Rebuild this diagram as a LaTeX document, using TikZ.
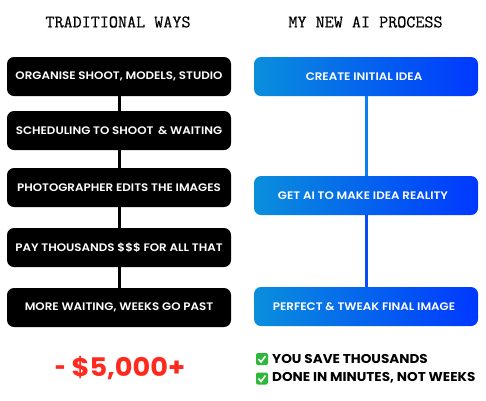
\documentclass[tikz,border=0pt]{standalone}
\usepackage{fontspec}
\setmainfont{Poppins}[FakeStretch=1.06]
\newfontfamily\semi{Poppins SemiBold}[FakeStretch=1.09]
\newfontfamily\typew{Latin Modern Mono}[FakeBold=0.5]
\definecolor{blueA}{HTML}{0A8FDC}
\definecolor{blueB}{HTML}{0038FF}
\definecolor{lineA}{HTML}{0B7EF0}
\definecolor{lineB}{HTML}{0A4CF6}
\definecolor{redT}{HTML}{FF2A1E}
\definecolor{chk}{HTML}{2DB83A}
\tikzset{
 x=1pt,y=-1pt,
 boxbase/.style={rounded corners=7pt,minimum width=224pt,minimum height=39pt,inner sep=0pt,text=white,font=\semi\fontsize{10.9pt}{12pt}\selectfont,anchor=center},
 oldbox/.style={boxbase,fill=black},
 newbox/.style={boxbase,left color=blueA,right color=blueB},
 oldlink/.style={line width=3pt,black},
 title/.style={font=\typew\fontsize{17.6pt}{19pt}\selectfont,text=black,inner sep=0pt},
 note/.style={font=\bfseries\fontsize{12.8pt}{14pt}\selectfont,text=black,inner sep=0pt,anchor=west},
 tick/.style={rounded corners=2pt,fill=chk,minimum size=12pt,inner sep=0pt},
 tickmark/.style={white,line width=1.6pt}
}
\begin{document}
\begin{tikzpicture}
\useasboundingbox (0,0) rectangle (486,400);
\fill[white] (0,0) rectangle (486,400);
\node[title] (t1) at (118,22) {TRADITIONAL WAYS};
\node[title] (t2) at (365.5,22) {MY NEW AI PROCESS};
\node[oldbox] (a1) at (119,76.5) {ORGANISE SHOOT, MODELS, STUDIO};
\node[oldbox] (a2) at (119,130.5) {SCHEDULING TO SHOOT \,\& WAITING};
\node[oldbox] (a3) at (119,187.5) {PHOTOGRAPHER EDITS THE IMAGES};
\node[oldbox] (a4) at (119,247.5) {PAY THOUSANDS \$\$\$ FOR ALL THAT};
\node[oldbox] (a5) at (119,307.5) {MORE WAITING, WEEKS GO PAST};
\foreach \u/\v in {a1/a2,a2/a3,a3/a4,a4/a5} \draw[oldlink] (\u) -- (\v);
\node[newbox] (b1) at (366,76.5) {CREATE INITIAL IDEA\kern4pt};
\node[newbox] (b2) at (366,195.5) {GET AI TO MAKE IDEA REALITY\kern6pt};
\node[newbox] (b3) at (366,306.5) {PERFECT \& TWEAK FINAL IMAGE\kern4pt};
\draw[line width=3pt,lineA] (b1) -- (b2);
\draw[line width=3pt,lineB] (b2) -- (b3);
\node[font=\bfseries\fontsize{25.6pt}{28pt}\selectfont,text=redT,inner sep=0pt] (cost) at (120,368) {\scalebox{.7}[1]{-} \$5,000+};
\node[tick] (c1) at (262,359) {};
\node[tick] (c2) at (262,378.5) {};
\draw[tickmark] (258.5,359) -- (261,362) -- (265.5,356);
\draw[tickmark] (258.5,378.5) -- (261,381.5) -- (265.5,375.5);
\node[note] (n1) at (272,358.7) {YOU SAVE THOUSANDS};
\node[note] (n2) at (272,377.7) {DONE IN MINUTES, NOT WEEKS};
\end{tikzpicture}
\end{document}
